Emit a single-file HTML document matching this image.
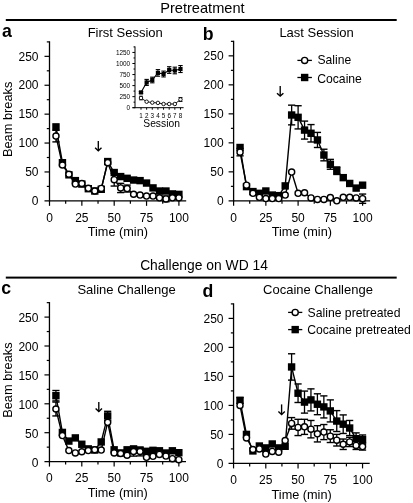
<!DOCTYPE html>
<html><head><meta charset="utf-8"><style>
html,body{margin:0;padding:0;background:#fff;overflow:hidden;}
svg{display:block;font-family:"Liberation Sans", sans-serif;will-change:transform;}
text{fill:#000;}
</style></head><body>
<svg width="413" height="503" viewBox="0 0 413 503">
<rect width="413" height="503" fill="#fff"/>
<text x="202.40" y="12.60" font-size="14.6" text-anchor="middle" font-weight="normal" >Pretreatment</text>
<rect x="5.8" y="19" width="390.9" height="2" fill="#000"/>
<text x="204.00" y="269.60" font-size="13.85" text-anchor="middle" font-weight="normal" >Challenge on WD 14</text>
<rect x="5.8" y="276.6" width="390.9" height="2" fill="#000"/>
<text x="2.00" y="36.50" font-size="17.7" text-anchor="start" font-weight="bold" >a</text>
<text x="202.70" y="39.50" font-size="17.7" text-anchor="start" font-weight="bold" >b</text>
<text x="1.30" y="293.70" font-size="17.7" text-anchor="start" font-weight="bold" >c</text>
<text x="202.50" y="296.50" font-size="17.7" text-anchor="start" font-weight="bold" >d</text>
<text x="125.20" y="36.90" font-size="13" text-anchor="middle" font-weight="normal" >First Session</text>
<text x="316.60" y="37.20" font-size="13" text-anchor="middle" font-weight="normal" >Last Session</text>
<text x="126.60" y="294.40" font-size="13" text-anchor="middle" font-weight="normal" >Saline Challenge</text>
<text x="318.00" y="294.00" font-size="13" text-anchor="middle" font-weight="normal" >Cocaine Challenge</text>
<line x1="49.50" y1="41.30" x2="49.50" y2="201.45" stroke="#000" stroke-width="1.3"/>
<line x1="44.50" y1="200.85" x2="186.20" y2="200.85" stroke="#000" stroke-width="1.4"/>
<line x1="46.80" y1="186.40" x2="49.50" y2="186.40" stroke="#000" stroke-width="1.2"/>
<line x1="44.50" y1="171.95" x2="49.50" y2="171.95" stroke="#000" stroke-width="1.2"/>
<line x1="46.80" y1="157.50" x2="49.50" y2="157.50" stroke="#000" stroke-width="1.2"/>
<line x1="44.50" y1="143.05" x2="49.50" y2="143.05" stroke="#000" stroke-width="1.2"/>
<line x1="46.80" y1="128.60" x2="49.50" y2="128.60" stroke="#000" stroke-width="1.2"/>
<line x1="44.50" y1="114.15" x2="49.50" y2="114.15" stroke="#000" stroke-width="1.2"/>
<line x1="46.80" y1="99.70" x2="49.50" y2="99.70" stroke="#000" stroke-width="1.2"/>
<line x1="44.50" y1="85.25" x2="49.50" y2="85.25" stroke="#000" stroke-width="1.2"/>
<line x1="46.80" y1="70.80" x2="49.50" y2="70.80" stroke="#000" stroke-width="1.2"/>
<line x1="44.50" y1="56.35" x2="49.50" y2="56.35" stroke="#000" stroke-width="1.2"/>
<line x1="46.80" y1="41.90" x2="49.50" y2="41.90" stroke="#000" stroke-width="1.2"/>
<text x="38.50" y="205.05" font-size="12" text-anchor="end" font-weight="normal" >0</text>
<text x="38.50" y="176.15" font-size="12" text-anchor="end" font-weight="normal" >50</text>
<text x="38.50" y="147.25" font-size="12" text-anchor="end" font-weight="normal" >100</text>
<text x="38.50" y="118.35" font-size="12" text-anchor="end" font-weight="normal" >150</text>
<text x="38.50" y="89.45" font-size="12" text-anchor="end" font-weight="normal" >200</text>
<text x="38.50" y="60.55" font-size="12" text-anchor="end" font-weight="normal" >250</text>
<line x1="49.50" y1="200.85" x2="49.50" y2="205.85" stroke="#000" stroke-width="1.2"/>
<line x1="65.67" y1="200.85" x2="65.67" y2="203.85" stroke="#000" stroke-width="1.2"/>
<line x1="81.85" y1="200.85" x2="81.85" y2="205.85" stroke="#000" stroke-width="1.2"/>
<line x1="98.03" y1="200.85" x2="98.03" y2="203.85" stroke="#000" stroke-width="1.2"/>
<line x1="114.20" y1="200.85" x2="114.20" y2="205.85" stroke="#000" stroke-width="1.2"/>
<line x1="130.38" y1="200.85" x2="130.38" y2="203.85" stroke="#000" stroke-width="1.2"/>
<line x1="146.55" y1="200.85" x2="146.55" y2="205.85" stroke="#000" stroke-width="1.2"/>
<line x1="162.73" y1="200.85" x2="162.73" y2="203.85" stroke="#000" stroke-width="1.2"/>
<line x1="178.90" y1="200.85" x2="178.90" y2="205.85" stroke="#000" stroke-width="1.2"/>
<text x="49.50" y="221.55" font-size="12" text-anchor="middle" font-weight="normal" >0</text>
<text x="81.85" y="221.55" font-size="12" text-anchor="middle" font-weight="normal" >25</text>
<text x="114.20" y="221.55" font-size="12" text-anchor="middle" font-weight="normal" >50</text>
<text x="146.55" y="221.55" font-size="12" text-anchor="middle" font-weight="normal" >75</text>
<text x="178.90" y="221.55" font-size="12" text-anchor="middle" font-weight="normal" >100</text>
<text x="117.85" y="236.35" font-size="12.7" text-anchor="middle" font-weight="normal" >Time (min)</text>
<text x="0" y="0" font-size="12.8" text-anchor="middle" transform="translate(11.70,119.38) rotate(-90)">Beam breaks</text>
<line x1="233.60" y1="40.75" x2="233.60" y2="201.45" stroke="#000" stroke-width="1.3"/>
<line x1="228.60" y1="200.85" x2="370.10" y2="200.85" stroke="#000" stroke-width="1.4"/>
<line x1="230.90" y1="186.35" x2="233.60" y2="186.35" stroke="#000" stroke-width="1.2"/>
<line x1="228.60" y1="171.85" x2="233.60" y2="171.85" stroke="#000" stroke-width="1.2"/>
<line x1="230.90" y1="157.35" x2="233.60" y2="157.35" stroke="#000" stroke-width="1.2"/>
<line x1="228.60" y1="142.85" x2="233.60" y2="142.85" stroke="#000" stroke-width="1.2"/>
<line x1="230.90" y1="128.35" x2="233.60" y2="128.35" stroke="#000" stroke-width="1.2"/>
<line x1="228.60" y1="113.85" x2="233.60" y2="113.85" stroke="#000" stroke-width="1.2"/>
<line x1="230.90" y1="99.35" x2="233.60" y2="99.35" stroke="#000" stroke-width="1.2"/>
<line x1="228.60" y1="84.85" x2="233.60" y2="84.85" stroke="#000" stroke-width="1.2"/>
<line x1="230.90" y1="70.35" x2="233.60" y2="70.35" stroke="#000" stroke-width="1.2"/>
<line x1="228.60" y1="55.85" x2="233.60" y2="55.85" stroke="#000" stroke-width="1.2"/>
<line x1="230.90" y1="41.35" x2="233.60" y2="41.35" stroke="#000" stroke-width="1.2"/>
<text x="223.60" y="205.35" font-size="12" text-anchor="end" font-weight="normal" >0</text>
<text x="223.60" y="176.35" font-size="12" text-anchor="end" font-weight="normal" >50</text>
<text x="223.60" y="147.35" font-size="12" text-anchor="end" font-weight="normal" >100</text>
<text x="223.60" y="118.35" font-size="12" text-anchor="end" font-weight="normal" >150</text>
<text x="223.60" y="89.35" font-size="12" text-anchor="end" font-weight="normal" >200</text>
<text x="223.60" y="60.35" font-size="12" text-anchor="end" font-weight="normal" >250</text>
<line x1="233.60" y1="200.85" x2="233.60" y2="205.85" stroke="#000" stroke-width="1.2"/>
<line x1="249.72" y1="200.85" x2="249.72" y2="203.85" stroke="#000" stroke-width="1.2"/>
<line x1="265.85" y1="200.85" x2="265.85" y2="205.85" stroke="#000" stroke-width="1.2"/>
<line x1="281.98" y1="200.85" x2="281.98" y2="203.85" stroke="#000" stroke-width="1.2"/>
<line x1="298.10" y1="200.85" x2="298.10" y2="205.85" stroke="#000" stroke-width="1.2"/>
<line x1="314.23" y1="200.85" x2="314.23" y2="203.85" stroke="#000" stroke-width="1.2"/>
<line x1="330.35" y1="200.85" x2="330.35" y2="205.85" stroke="#000" stroke-width="1.2"/>
<line x1="346.48" y1="200.85" x2="346.48" y2="203.85" stroke="#000" stroke-width="1.2"/>
<line x1="362.60" y1="200.85" x2="362.60" y2="205.85" stroke="#000" stroke-width="1.2"/>
<text x="233.60" y="221.55" font-size="12" text-anchor="middle" font-weight="normal" >0</text>
<text x="265.85" y="221.55" font-size="12" text-anchor="middle" font-weight="normal" >25</text>
<text x="298.10" y="221.55" font-size="12" text-anchor="middle" font-weight="normal" >50</text>
<text x="330.35" y="221.55" font-size="12" text-anchor="middle" font-weight="normal" >75</text>
<text x="362.60" y="221.55" font-size="12" text-anchor="middle" font-weight="normal" >100</text>
<text x="301.85" y="236.35" font-size="12.7" text-anchor="middle" font-weight="normal" >Time (min)</text>
<line x1="49.45" y1="302.05" x2="49.45" y2="462.20" stroke="#000" stroke-width="1.3"/>
<line x1="44.45" y1="461.60" x2="186.00" y2="461.60" stroke="#000" stroke-width="1.4"/>
<line x1="46.75" y1="447.15" x2="49.45" y2="447.15" stroke="#000" stroke-width="1.2"/>
<line x1="44.45" y1="432.70" x2="49.45" y2="432.70" stroke="#000" stroke-width="1.2"/>
<line x1="46.75" y1="418.25" x2="49.45" y2="418.25" stroke="#000" stroke-width="1.2"/>
<line x1="44.45" y1="403.80" x2="49.45" y2="403.80" stroke="#000" stroke-width="1.2"/>
<line x1="46.75" y1="389.35" x2="49.45" y2="389.35" stroke="#000" stroke-width="1.2"/>
<line x1="44.45" y1="374.90" x2="49.45" y2="374.90" stroke="#000" stroke-width="1.2"/>
<line x1="46.75" y1="360.45" x2="49.45" y2="360.45" stroke="#000" stroke-width="1.2"/>
<line x1="44.45" y1="346.00" x2="49.45" y2="346.00" stroke="#000" stroke-width="1.2"/>
<line x1="46.75" y1="331.55" x2="49.45" y2="331.55" stroke="#000" stroke-width="1.2"/>
<line x1="44.45" y1="317.10" x2="49.45" y2="317.10" stroke="#000" stroke-width="1.2"/>
<line x1="46.75" y1="302.65" x2="49.45" y2="302.65" stroke="#000" stroke-width="1.2"/>
<text x="38.45" y="466.50" font-size="12" text-anchor="end" font-weight="normal" >0</text>
<text x="38.45" y="437.60" font-size="12" text-anchor="end" font-weight="normal" >50</text>
<text x="38.45" y="408.70" font-size="12" text-anchor="end" font-weight="normal" >100</text>
<text x="38.45" y="379.80" font-size="12" text-anchor="end" font-weight="normal" >150</text>
<text x="38.45" y="350.90" font-size="12" text-anchor="end" font-weight="normal" >200</text>
<text x="38.45" y="322.00" font-size="12" text-anchor="end" font-weight="normal" >250</text>
<line x1="49.45" y1="461.60" x2="49.45" y2="466.60" stroke="#000" stroke-width="1.2"/>
<line x1="65.62" y1="461.60" x2="65.62" y2="464.60" stroke="#000" stroke-width="1.2"/>
<line x1="81.80" y1="461.60" x2="81.80" y2="466.60" stroke="#000" stroke-width="1.2"/>
<line x1="97.97" y1="461.60" x2="97.97" y2="464.60" stroke="#000" stroke-width="1.2"/>
<line x1="114.15" y1="461.60" x2="114.15" y2="466.60" stroke="#000" stroke-width="1.2"/>
<line x1="130.32" y1="461.60" x2="130.32" y2="464.60" stroke="#000" stroke-width="1.2"/>
<line x1="146.50" y1="461.60" x2="146.50" y2="466.60" stroke="#000" stroke-width="1.2"/>
<line x1="162.68" y1="461.60" x2="162.68" y2="464.60" stroke="#000" stroke-width="1.2"/>
<line x1="178.85" y1="461.60" x2="178.85" y2="466.60" stroke="#000" stroke-width="1.2"/>
<text x="49.45" y="482.30" font-size="12" text-anchor="middle" font-weight="normal" >0</text>
<text x="81.80" y="482.30" font-size="12" text-anchor="middle" font-weight="normal" >25</text>
<text x="114.15" y="482.30" font-size="12" text-anchor="middle" font-weight="normal" >50</text>
<text x="146.50" y="482.30" font-size="12" text-anchor="middle" font-weight="normal" >75</text>
<text x="178.85" y="482.30" font-size="12" text-anchor="middle" font-weight="normal" >100</text>
<text x="117.72" y="497.10" font-size="12.7" text-anchor="middle" font-weight="normal" >Time (min)</text>
<text x="0" y="0" font-size="12.8" text-anchor="middle" transform="translate(11.65,380.12) rotate(-90)">Beam breaks</text>
<line x1="233.55" y1="303.30" x2="233.55" y2="464.00" stroke="#000" stroke-width="1.3"/>
<line x1="228.55" y1="463.40" x2="369.70" y2="463.40" stroke="#000" stroke-width="1.4"/>
<line x1="230.85" y1="448.90" x2="233.55" y2="448.90" stroke="#000" stroke-width="1.2"/>
<line x1="228.55" y1="434.40" x2="233.55" y2="434.40" stroke="#000" stroke-width="1.2"/>
<line x1="230.85" y1="419.90" x2="233.55" y2="419.90" stroke="#000" stroke-width="1.2"/>
<line x1="228.55" y1="405.40" x2="233.55" y2="405.40" stroke="#000" stroke-width="1.2"/>
<line x1="230.85" y1="390.90" x2="233.55" y2="390.90" stroke="#000" stroke-width="1.2"/>
<line x1="228.55" y1="376.40" x2="233.55" y2="376.40" stroke="#000" stroke-width="1.2"/>
<line x1="230.85" y1="361.90" x2="233.55" y2="361.90" stroke="#000" stroke-width="1.2"/>
<line x1="228.55" y1="347.40" x2="233.55" y2="347.40" stroke="#000" stroke-width="1.2"/>
<line x1="230.85" y1="332.90" x2="233.55" y2="332.90" stroke="#000" stroke-width="1.2"/>
<line x1="228.55" y1="318.40" x2="233.55" y2="318.40" stroke="#000" stroke-width="1.2"/>
<line x1="230.85" y1="303.90" x2="233.55" y2="303.90" stroke="#000" stroke-width="1.2"/>
<text x="223.55" y="468.00" font-size="12" text-anchor="end" font-weight="normal" >0</text>
<text x="223.55" y="439.00" font-size="12" text-anchor="end" font-weight="normal" >50</text>
<text x="223.55" y="410.00" font-size="12" text-anchor="end" font-weight="normal" >100</text>
<text x="223.55" y="381.00" font-size="12" text-anchor="end" font-weight="normal" >150</text>
<text x="223.55" y="352.00" font-size="12" text-anchor="end" font-weight="normal" >200</text>
<text x="223.55" y="323.00" font-size="12" text-anchor="end" font-weight="normal" >250</text>
<line x1="233.55" y1="463.40" x2="233.55" y2="468.40" stroke="#000" stroke-width="1.2"/>
<line x1="249.68" y1="463.40" x2="249.68" y2="466.40" stroke="#000" stroke-width="1.2"/>
<line x1="265.80" y1="463.40" x2="265.80" y2="468.40" stroke="#000" stroke-width="1.2"/>
<line x1="281.93" y1="463.40" x2="281.93" y2="466.40" stroke="#000" stroke-width="1.2"/>
<line x1="298.05" y1="463.40" x2="298.05" y2="468.40" stroke="#000" stroke-width="1.2"/>
<line x1="314.18" y1="463.40" x2="314.18" y2="466.40" stroke="#000" stroke-width="1.2"/>
<line x1="330.30" y1="463.40" x2="330.30" y2="468.40" stroke="#000" stroke-width="1.2"/>
<line x1="346.43" y1="463.40" x2="346.43" y2="466.40" stroke="#000" stroke-width="1.2"/>
<line x1="362.55" y1="463.40" x2="362.55" y2="468.40" stroke="#000" stroke-width="1.2"/>
<text x="233.55" y="484.10" font-size="12" text-anchor="middle" font-weight="normal" >0</text>
<text x="265.80" y="484.10" font-size="12" text-anchor="middle" font-weight="normal" >25</text>
<text x="298.05" y="484.10" font-size="12" text-anchor="middle" font-weight="normal" >50</text>
<text x="330.30" y="484.10" font-size="12" text-anchor="middle" font-weight="normal" >75</text>
<text x="362.55" y="484.10" font-size="12" text-anchor="middle" font-weight="normal" >100</text>
<text x="301.62" y="498.90" font-size="12.7" text-anchor="middle" font-weight="normal" >Time (min)</text>
<line x1="98.30" y1="141.10" x2="98.30" y2="150.70" stroke="#000" stroke-width="1.35"/>
<path d="M95.10,147.80 L98.30,150.70 L101.50,147.80" fill="none" stroke="#000" stroke-width="1.4" stroke-linejoin="miter"/>
<line x1="280.20" y1="86.00" x2="280.20" y2="96.10" stroke="#000" stroke-width="1.35"/>
<path d="M277.00,93.20 L280.20,96.10 L283.40,93.20" fill="none" stroke="#000" stroke-width="1.4" stroke-linejoin="miter"/>
<line x1="98.80" y1="402.00" x2="98.80" y2="411.50" stroke="#000" stroke-width="1.35"/>
<path d="M95.60,408.60 L98.80,411.50 L102.00,408.60" fill="none" stroke="#000" stroke-width="1.4" stroke-linejoin="miter"/>
<line x1="281.60" y1="404.40" x2="281.60" y2="414.50" stroke="#000" stroke-width="1.35"/>
<path d="M278.40,411.60 L281.60,414.50 L284.80,411.60" fill="none" stroke="#000" stroke-width="1.4" stroke-linejoin="miter"/>
<path d="M55.97,126.87 L62.44,162.70 L68.91,174.84 L75.38,180.62 L81.85,184.09 L88.32,188.71 L94.79,191.02 L101.26,189.29 L107.73,161.55 L114.20,172.53 L120.67,176.57 L127.14,178.31 L133.61,180.04 L140.08,180.62 L146.55,183.05 L153.02,187.90 L159.49,191.02 L165.96,191.02 L172.43,193.91 L178.90,194.38" fill="none" stroke="#000" stroke-width="1.4"/>
<rect x="52.27" y="123.17" width="7.4" height="7.4" fill="#000"/>
<rect x="58.74" y="159.00" width="7.4" height="7.4" fill="#000"/>
<rect x="65.21" y="171.14" width="7.4" height="7.4" fill="#000"/>
<rect x="71.68" y="176.92" width="7.4" height="7.4" fill="#000"/>
<rect x="78.15" y="180.39" width="7.4" height="7.4" fill="#000"/>
<rect x="84.62" y="185.01" width="7.4" height="7.4" fill="#000"/>
<rect x="91.09" y="187.32" width="7.4" height="7.4" fill="#000"/>
<rect x="97.56" y="185.59" width="7.4" height="7.4" fill="#000"/>
<rect x="104.03" y="157.85" width="7.4" height="7.4" fill="#000"/>
<rect x="110.50" y="168.83" width="7.4" height="7.4" fill="#000"/>
<rect x="116.97" y="172.87" width="7.4" height="7.4" fill="#000"/>
<rect x="123.44" y="174.61" width="7.4" height="7.4" fill="#000"/>
<rect x="129.91" y="176.34" width="7.4" height="7.4" fill="#000"/>
<rect x="136.38" y="176.92" width="7.4" height="7.4" fill="#000"/>
<rect x="142.85" y="179.35" width="7.4" height="7.4" fill="#000"/>
<rect x="149.32" y="184.20" width="7.4" height="7.4" fill="#000"/>
<rect x="155.79" y="187.32" width="7.4" height="7.4" fill="#000"/>
<rect x="162.26" y="187.32" width="7.4" height="7.4" fill="#000"/>
<rect x="168.73" y="190.21" width="7.4" height="7.4" fill="#000"/>
<rect x="175.20" y="190.68" width="7.4" height="7.4" fill="#000"/>
<line x1="55.97" y1="130.33" x2="55.97" y2="141.89" stroke="#000" stroke-width="1.3"/>
<line x1="52.37" y1="130.33" x2="59.57" y2="130.33" stroke="#000" stroke-width="1.4"/>
<line x1="52.37" y1="141.89" x2="59.57" y2="141.89" stroke="#000" stroke-width="1.4"/>
<line x1="114.20" y1="173.34" x2="114.20" y2="186.05" stroke="#000" stroke-width="1.3"/>
<line x1="110.60" y1="173.34" x2="117.80" y2="173.34" stroke="#000" stroke-width="1.4"/>
<line x1="110.60" y1="186.05" x2="117.80" y2="186.05" stroke="#000" stroke-width="1.4"/>
<line x1="120.67" y1="183.34" x2="120.67" y2="192.58" stroke="#000" stroke-width="1.3"/>
<line x1="117.07" y1="183.34" x2="124.27" y2="183.34" stroke="#000" stroke-width="1.4"/>
<line x1="117.07" y1="192.58" x2="124.27" y2="192.58" stroke="#000" stroke-width="1.4"/>
<line x1="127.14" y1="185.07" x2="127.14" y2="192.01" stroke="#000" stroke-width="1.3"/>
<line x1="123.54" y1="185.07" x2="130.74" y2="185.07" stroke="#000" stroke-width="1.4"/>
<line x1="123.54" y1="192.01" x2="130.74" y2="192.01" stroke="#000" stroke-width="1.4"/>
<line x1="165.96" y1="195.99" x2="165.96" y2="201.77" stroke="#000" stroke-width="1.3"/>
<line x1="162.36" y1="195.99" x2="169.56" y2="195.99" stroke="#000" stroke-width="1.4"/>
<line x1="162.36" y1="201.77" x2="169.56" y2="201.77" stroke="#000" stroke-width="1.4"/>
<path d="M55.97,136.11 L62.44,165.01 L68.91,174.26 L75.38,184.09 L81.85,183.51 L88.32,188.37 L94.79,191.02 L101.26,188.42 L107.73,162.70 L114.20,179.70 L120.67,187.96 L127.14,188.54 L133.61,194.26 L140.08,195.07 L146.55,196.11 L153.02,196.11 L159.49,197.79 L165.96,198.88 L172.43,197.79 L178.90,197.79" fill="none" stroke="#000" stroke-width="1.4"/>
<circle cx="55.97" cy="136.11" r="3.05" fill="#fff" stroke="#000" stroke-width="1.4"/>
<circle cx="62.44" cy="165.01" r="3.05" fill="#fff" stroke="#000" stroke-width="1.4"/>
<circle cx="68.91" cy="174.26" r="3.05" fill="#fff" stroke="#000" stroke-width="1.4"/>
<circle cx="75.38" cy="184.09" r="3.05" fill="#fff" stroke="#000" stroke-width="1.4"/>
<circle cx="81.85" cy="183.51" r="3.05" fill="#fff" stroke="#000" stroke-width="1.4"/>
<circle cx="88.32" cy="188.37" r="3.05" fill="#fff" stroke="#000" stroke-width="1.4"/>
<circle cx="94.79" cy="191.02" r="3.05" fill="#fff" stroke="#000" stroke-width="1.4"/>
<circle cx="101.26" cy="188.42" r="3.05" fill="#fff" stroke="#000" stroke-width="1.4"/>
<circle cx="107.73" cy="162.70" r="3.05" fill="#fff" stroke="#000" stroke-width="1.4"/>
<circle cx="114.20" cy="179.70" r="3.05" fill="#fff" stroke="#000" stroke-width="1.4"/>
<circle cx="120.67" cy="187.96" r="3.05" fill="#fff" stroke="#000" stroke-width="1.4"/>
<circle cx="127.14" cy="188.54" r="3.05" fill="#fff" stroke="#000" stroke-width="1.4"/>
<circle cx="133.61" cy="194.26" r="3.05" fill="#fff" stroke="#000" stroke-width="1.4"/>
<circle cx="140.08" cy="195.07" r="3.05" fill="#fff" stroke="#000" stroke-width="1.4"/>
<circle cx="146.55" cy="196.11" r="3.05" fill="#fff" stroke="#000" stroke-width="1.4"/>
<circle cx="153.02" cy="196.11" r="3.05" fill="#fff" stroke="#000" stroke-width="1.4"/>
<circle cx="159.49" cy="197.79" r="3.05" fill="#fff" stroke="#000" stroke-width="1.4"/>
<circle cx="165.96" cy="198.88" r="3.05" fill="#fff" stroke="#000" stroke-width="1.4"/>
<circle cx="172.43" cy="197.79" r="3.05" fill="#fff" stroke="#000" stroke-width="1.4"/>
<circle cx="178.90" cy="197.79" r="3.05" fill="#fff" stroke="#000" stroke-width="1.4"/>
<line x1="291.65" y1="105.15" x2="291.65" y2="124.87" stroke="#000" stroke-width="1.3"/>
<line x1="288.05" y1="105.15" x2="295.25" y2="105.15" stroke="#000" stroke-width="1.4"/>
<line x1="288.05" y1="124.87" x2="295.25" y2="124.87" stroke="#000" stroke-width="1.4"/>
<line x1="298.10" y1="105.73" x2="298.10" y2="128.93" stroke="#000" stroke-width="1.3"/>
<line x1="294.50" y1="105.73" x2="301.70" y2="105.73" stroke="#000" stroke-width="1.4"/>
<line x1="294.50" y1="128.93" x2="301.70" y2="128.93" stroke="#000" stroke-width="1.4"/>
<line x1="304.55" y1="121.10" x2="304.55" y2="139.08" stroke="#000" stroke-width="1.3"/>
<line x1="300.95" y1="121.10" x2="308.15" y2="121.10" stroke="#000" stroke-width="1.4"/>
<line x1="300.95" y1="139.08" x2="308.15" y2="139.08" stroke="#000" stroke-width="1.4"/>
<line x1="311.00" y1="124.58" x2="311.00" y2="141.98" stroke="#000" stroke-width="1.3"/>
<line x1="307.40" y1="124.58" x2="314.60" y2="124.58" stroke="#000" stroke-width="1.4"/>
<line x1="307.40" y1="141.98" x2="314.60" y2="141.98" stroke="#000" stroke-width="1.4"/>
<line x1="317.45" y1="132.41" x2="317.45" y2="147.49" stroke="#000" stroke-width="1.3"/>
<line x1="313.85" y1="132.41" x2="321.05" y2="132.41" stroke="#000" stroke-width="1.4"/>
<line x1="313.85" y1="147.49" x2="321.05" y2="147.49" stroke="#000" stroke-width="1.4"/>
<line x1="323.90" y1="149.23" x2="323.90" y2="160.83" stroke="#000" stroke-width="1.3"/>
<line x1="320.30" y1="149.23" x2="327.50" y2="149.23" stroke="#000" stroke-width="1.4"/>
<line x1="320.30" y1="160.83" x2="327.50" y2="160.83" stroke="#000" stroke-width="1.4"/>
<line x1="330.35" y1="159.38" x2="330.35" y2="169.24" stroke="#000" stroke-width="1.3"/>
<line x1="326.75" y1="159.38" x2="333.95" y2="159.38" stroke="#000" stroke-width="1.4"/>
<line x1="326.75" y1="169.24" x2="333.95" y2="169.24" stroke="#000" stroke-width="1.4"/>
<line x1="336.80" y1="166.92" x2="336.80" y2="174.46" stroke="#000" stroke-width="1.3"/>
<line x1="333.20" y1="166.92" x2="340.40" y2="166.92" stroke="#000" stroke-width="1.4"/>
<line x1="333.20" y1="174.46" x2="340.40" y2="174.46" stroke="#000" stroke-width="1.4"/>
<path d="M240.05,147.49 L246.50,186.64 L252.95,191.57 L259.40,193.31 L265.85,190.99 L272.30,195.05 L278.75,195.63 L285.20,185.89 L291.65,115.01 L298.10,117.33 L304.55,130.09 L311.00,133.28 L317.45,139.95 L323.90,155.03 L330.35,164.31 L336.80,170.69 L343.25,177.65 L349.70,183.45 L356.15,188.09 L362.60,185.19" fill="none" stroke="#000" stroke-width="1.4"/>
<rect x="236.35" y="143.79" width="7.4" height="7.4" fill="#000"/>
<rect x="242.80" y="182.94" width="7.4" height="7.4" fill="#000"/>
<rect x="249.25" y="187.87" width="7.4" height="7.4" fill="#000"/>
<rect x="255.70" y="189.61" width="7.4" height="7.4" fill="#000"/>
<rect x="262.15" y="187.29" width="7.4" height="7.4" fill="#000"/>
<rect x="268.60" y="191.35" width="7.4" height="7.4" fill="#000"/>
<rect x="275.05" y="191.93" width="7.4" height="7.4" fill="#000"/>
<rect x="281.50" y="182.19" width="7.4" height="7.4" fill="#000"/>
<rect x="287.95" y="111.31" width="7.4" height="7.4" fill="#000"/>
<rect x="294.40" y="113.63" width="7.4" height="7.4" fill="#000"/>
<rect x="300.85" y="126.39" width="7.4" height="7.4" fill="#000"/>
<rect x="307.30" y="129.58" width="7.4" height="7.4" fill="#000"/>
<rect x="313.75" y="136.25" width="7.4" height="7.4" fill="#000"/>
<rect x="320.20" y="151.33" width="7.4" height="7.4" fill="#000"/>
<rect x="326.65" y="160.61" width="7.4" height="7.4" fill="#000"/>
<rect x="333.10" y="166.99" width="7.4" height="7.4" fill="#000"/>
<rect x="339.55" y="173.95" width="7.4" height="7.4" fill="#000"/>
<rect x="346.00" y="179.75" width="7.4" height="7.4" fill="#000"/>
<rect x="352.45" y="184.39" width="7.4" height="7.4" fill="#000"/>
<rect x="358.90" y="181.49" width="7.4" height="7.4" fill="#000"/>
<line x1="240.05" y1="148.42" x2="240.05" y2="155.84" stroke="#000" stroke-width="1.3"/>
<line x1="236.45" y1="148.42" x2="243.65" y2="148.42" stroke="#000" stroke-width="1.4"/>
<line x1="236.45" y1="155.84" x2="243.65" y2="155.84" stroke="#000" stroke-width="1.4"/>
<line x1="362.60" y1="194.06" x2="362.60" y2="203.34" stroke="#000" stroke-width="1.3"/>
<line x1="359.00" y1="194.06" x2="366.20" y2="194.06" stroke="#000" stroke-width="1.4"/>
<line x1="359.00" y1="203.34" x2="366.20" y2="203.34" stroke="#000" stroke-width="1.4"/>
<path d="M240.05,152.13 L246.50,185.19 L252.95,193.31 L259.40,197.37 L265.85,198.53 L272.30,198.53 L278.75,198.53 L285.20,195.05 L291.65,172.08 L298.10,193.31 L304.55,192.73 L311.00,197.95 L317.45,199.40 L323.90,199.40 L330.35,197.60 L336.80,200.85 L343.25,197.37 L349.70,197.37 L356.15,197.95 L362.60,198.70" fill="none" stroke="#000" stroke-width="1.4"/>
<circle cx="240.05" cy="152.13" r="3.05" fill="#fff" stroke="#000" stroke-width="1.4"/>
<circle cx="246.50" cy="185.19" r="3.05" fill="#fff" stroke="#000" stroke-width="1.4"/>
<circle cx="252.95" cy="193.31" r="3.05" fill="#fff" stroke="#000" stroke-width="1.4"/>
<circle cx="259.40" cy="197.37" r="3.05" fill="#fff" stroke="#000" stroke-width="1.4"/>
<circle cx="265.85" cy="198.53" r="3.05" fill="#fff" stroke="#000" stroke-width="1.4"/>
<circle cx="272.30" cy="198.53" r="3.05" fill="#fff" stroke="#000" stroke-width="1.4"/>
<circle cx="278.75" cy="198.53" r="3.05" fill="#fff" stroke="#000" stroke-width="1.4"/>
<circle cx="285.20" cy="195.05" r="3.05" fill="#fff" stroke="#000" stroke-width="1.4"/>
<circle cx="291.65" cy="172.08" r="3.05" fill="#fff" stroke="#000" stroke-width="1.4"/>
<circle cx="298.10" cy="193.31" r="3.05" fill="#fff" stroke="#000" stroke-width="1.4"/>
<circle cx="304.55" cy="192.73" r="3.05" fill="#fff" stroke="#000" stroke-width="1.4"/>
<circle cx="311.00" cy="197.95" r="3.05" fill="#fff" stroke="#000" stroke-width="1.4"/>
<circle cx="317.45" cy="199.40" r="3.05" fill="#fff" stroke="#000" stroke-width="1.4"/>
<circle cx="323.90" cy="199.40" r="3.05" fill="#fff" stroke="#000" stroke-width="1.4"/>
<circle cx="330.35" cy="197.60" r="3.05" fill="#fff" stroke="#000" stroke-width="1.4"/>
<circle cx="336.80" cy="200.85" r="3.05" fill="#fff" stroke="#000" stroke-width="1.4"/>
<circle cx="343.25" cy="197.37" r="3.05" fill="#fff" stroke="#000" stroke-width="1.4"/>
<circle cx="349.70" cy="197.37" r="3.05" fill="#fff" stroke="#000" stroke-width="1.4"/>
<circle cx="356.15" cy="197.95" r="3.05" fill="#fff" stroke="#000" stroke-width="1.4"/>
<circle cx="362.60" cy="198.70" r="3.05" fill="#fff" stroke="#000" stroke-width="1.4"/>
<line x1="55.92" y1="390.51" x2="55.92" y2="400.91" stroke="#000" stroke-width="1.3"/>
<line x1="52.32" y1="390.51" x2="59.52" y2="390.51" stroke="#000" stroke-width="1.4"/>
<line x1="52.32" y1="400.91" x2="59.52" y2="400.91" stroke="#000" stroke-width="1.4"/>
<line x1="107.68" y1="411.31" x2="107.68" y2="420.56" stroke="#000" stroke-width="1.3"/>
<line x1="104.08" y1="411.31" x2="111.28" y2="411.31" stroke="#000" stroke-width="1.4"/>
<line x1="104.08" y1="420.56" x2="111.28" y2="420.56" stroke="#000" stroke-width="1.4"/>
<path d="M55.92,395.71 L62.39,432.41 L68.86,441.08 L75.33,437.90 L81.80,444.26 L88.27,448.88 L94.74,450.04 L101.21,441.95 L107.68,415.94 L114.15,449.81 L120.62,452.93 L127.09,449.81 L133.56,448.88 L140.03,450.33 L146.50,451.31 L152.97,450.33 L159.44,450.79 L165.91,452.99 L172.38,450.79 L178.85,452.70" fill="none" stroke="#000" stroke-width="1.4"/>
<rect x="52.22" y="392.01" width="7.4" height="7.4" fill="#000"/>
<rect x="58.69" y="428.71" width="7.4" height="7.4" fill="#000"/>
<rect x="65.16" y="437.38" width="7.4" height="7.4" fill="#000"/>
<rect x="71.63" y="434.20" width="7.4" height="7.4" fill="#000"/>
<rect x="78.10" y="440.56" width="7.4" height="7.4" fill="#000"/>
<rect x="84.57" y="445.18" width="7.4" height="7.4" fill="#000"/>
<rect x="91.04" y="446.34" width="7.4" height="7.4" fill="#000"/>
<rect x="97.51" y="438.25" width="7.4" height="7.4" fill="#000"/>
<rect x="103.98" y="412.24" width="7.4" height="7.4" fill="#000"/>
<rect x="110.45" y="446.11" width="7.4" height="7.4" fill="#000"/>
<rect x="116.92" y="449.23" width="7.4" height="7.4" fill="#000"/>
<rect x="123.39" y="446.11" width="7.4" height="7.4" fill="#000"/>
<rect x="129.86" y="445.18" width="7.4" height="7.4" fill="#000"/>
<rect x="136.33" y="446.63" width="7.4" height="7.4" fill="#000"/>
<rect x="142.80" y="447.61" width="7.4" height="7.4" fill="#000"/>
<rect x="149.27" y="446.63" width="7.4" height="7.4" fill="#000"/>
<rect x="155.74" y="447.09" width="7.4" height="7.4" fill="#000"/>
<rect x="162.21" y="449.29" width="7.4" height="7.4" fill="#000"/>
<rect x="168.68" y="447.09" width="7.4" height="7.4" fill="#000"/>
<rect x="175.15" y="449.00" width="7.4" height="7.4" fill="#000"/>
<line x1="55.92" y1="402.07" x2="55.92" y2="415.94" stroke="#000" stroke-width="1.3"/>
<line x1="52.32" y1="402.07" x2="59.52" y2="402.07" stroke="#000" stroke-width="1.4"/>
<line x1="52.32" y1="415.94" x2="59.52" y2="415.94" stroke="#000" stroke-width="1.4"/>
<line x1="133.56" y1="446.86" x2="133.56" y2="456.11" stroke="#000" stroke-width="1.3"/>
<line x1="129.96" y1="446.86" x2="137.16" y2="446.86" stroke="#000" stroke-width="1.4"/>
<line x1="129.96" y1="456.11" x2="137.16" y2="456.11" stroke="#000" stroke-width="1.4"/>
<line x1="140.03" y1="447.09" x2="140.03" y2="455.88" stroke="#000" stroke-width="1.3"/>
<line x1="136.43" y1="447.09" x2="143.63" y2="447.09" stroke="#000" stroke-width="1.4"/>
<line x1="136.43" y1="455.88" x2="143.63" y2="455.88" stroke="#000" stroke-width="1.4"/>
<path d="M55.92,409.00 L62.39,435.59 L68.86,450.62 L75.33,452.93 L81.80,451.77 L88.27,450.62 L94.74,449.75 L101.21,450.04 L107.68,422.30 L114.15,452.93 L120.62,453.51 L127.09,455.24 L133.56,451.49 L140.03,451.49 L146.50,457.32 L152.97,456.28 L159.44,454.38 L165.91,456.11 L172.38,458.71 L178.85,459.69" fill="none" stroke="#000" stroke-width="1.4"/>
<circle cx="55.92" cy="409.00" r="3.05" fill="#fff" stroke="#000" stroke-width="1.4"/>
<circle cx="62.39" cy="435.59" r="3.05" fill="#fff" stroke="#000" stroke-width="1.4"/>
<circle cx="68.86" cy="450.62" r="3.05" fill="#fff" stroke="#000" stroke-width="1.4"/>
<circle cx="75.33" cy="452.93" r="3.05" fill="#fff" stroke="#000" stroke-width="1.4"/>
<circle cx="81.80" cy="451.77" r="3.05" fill="#fff" stroke="#000" stroke-width="1.4"/>
<circle cx="88.27" cy="450.62" r="3.05" fill="#fff" stroke="#000" stroke-width="1.4"/>
<circle cx="94.74" cy="449.75" r="3.05" fill="#fff" stroke="#000" stroke-width="1.4"/>
<circle cx="101.21" cy="450.04" r="3.05" fill="#fff" stroke="#000" stroke-width="1.4"/>
<circle cx="107.68" cy="422.30" r="3.05" fill="#fff" stroke="#000" stroke-width="1.4"/>
<circle cx="114.15" cy="452.93" r="3.05" fill="#fff" stroke="#000" stroke-width="1.4"/>
<circle cx="120.62" cy="453.51" r="3.05" fill="#fff" stroke="#000" stroke-width="1.4"/>
<circle cx="127.09" cy="455.24" r="3.05" fill="#fff" stroke="#000" stroke-width="1.4"/>
<circle cx="133.56" cy="451.49" r="3.05" fill="#fff" stroke="#000" stroke-width="1.4"/>
<circle cx="140.03" cy="451.49" r="3.05" fill="#fff" stroke="#000" stroke-width="1.4"/>
<circle cx="146.50" cy="457.32" r="3.05" fill="#fff" stroke="#000" stroke-width="1.4"/>
<circle cx="152.97" cy="456.28" r="3.05" fill="#fff" stroke="#000" stroke-width="1.4"/>
<circle cx="159.44" cy="454.38" r="3.05" fill="#fff" stroke="#000" stroke-width="1.4"/>
<circle cx="165.91" cy="456.11" r="3.05" fill="#fff" stroke="#000" stroke-width="1.4"/>
<circle cx="172.38" cy="458.71" r="3.05" fill="#fff" stroke="#000" stroke-width="1.4"/>
<circle cx="178.85" cy="459.69" r="3.05" fill="#fff" stroke="#000" stroke-width="1.4"/>
<line x1="240.00" y1="397.51" x2="240.00" y2="403.31" stroke="#000" stroke-width="1.3"/>
<line x1="236.40" y1="397.51" x2="243.60" y2="397.51" stroke="#000" stroke-width="1.4"/>
<line x1="236.40" y1="403.31" x2="243.60" y2="403.31" stroke="#000" stroke-width="1.4"/>
<line x1="291.60" y1="353.78" x2="291.60" y2="380.11" stroke="#000" stroke-width="1.3"/>
<line x1="288.00" y1="353.78" x2="295.20" y2="353.78" stroke="#000" stroke-width="1.4"/>
<line x1="288.00" y1="380.11" x2="295.20" y2="380.11" stroke="#000" stroke-width="1.4"/>
<line x1="298.05" y1="383.94" x2="298.05" y2="402.50" stroke="#000" stroke-width="1.3"/>
<line x1="294.45" y1="383.94" x2="301.65" y2="383.94" stroke="#000" stroke-width="1.4"/>
<line x1="294.45" y1="402.50" x2="301.65" y2="402.50" stroke="#000" stroke-width="1.4"/>
<line x1="304.50" y1="391.07" x2="304.50" y2="413.11" stroke="#000" stroke-width="1.3"/>
<line x1="300.90" y1="391.07" x2="308.10" y2="391.07" stroke="#000" stroke-width="1.4"/>
<line x1="300.90" y1="413.11" x2="308.10" y2="413.11" stroke="#000" stroke-width="1.4"/>
<line x1="310.95" y1="388.87" x2="310.95" y2="410.91" stroke="#000" stroke-width="1.3"/>
<line x1="307.35" y1="388.87" x2="314.55" y2="388.87" stroke="#000" stroke-width="1.4"/>
<line x1="307.35" y1="410.91" x2="314.55" y2="410.91" stroke="#000" stroke-width="1.4"/>
<line x1="317.40" y1="393.80" x2="317.40" y2="414.68" stroke="#000" stroke-width="1.3"/>
<line x1="313.80" y1="393.80" x2="321.00" y2="393.80" stroke="#000" stroke-width="1.4"/>
<line x1="313.80" y1="414.68" x2="321.00" y2="414.68" stroke="#000" stroke-width="1.4"/>
<line x1="323.85" y1="395.89" x2="323.85" y2="417.93" stroke="#000" stroke-width="1.3"/>
<line x1="320.25" y1="395.89" x2="327.45" y2="395.89" stroke="#000" stroke-width="1.4"/>
<line x1="320.25" y1="417.93" x2="327.45" y2="417.93" stroke="#000" stroke-width="1.4"/>
<line x1="330.30" y1="399.89" x2="330.30" y2="421.93" stroke="#000" stroke-width="1.3"/>
<line x1="326.70" y1="399.89" x2="333.90" y2="399.89" stroke="#000" stroke-width="1.4"/>
<line x1="326.70" y1="421.93" x2="333.90" y2="421.93" stroke="#000" stroke-width="1.4"/>
<line x1="336.75" y1="410.62" x2="336.75" y2="431.50" stroke="#000" stroke-width="1.3"/>
<line x1="333.15" y1="410.62" x2="340.35" y2="410.62" stroke="#000" stroke-width="1.4"/>
<line x1="333.15" y1="431.50" x2="340.35" y2="431.50" stroke="#000" stroke-width="1.4"/>
<line x1="343.20" y1="414.91" x2="343.20" y2="433.47" stroke="#000" stroke-width="1.3"/>
<line x1="339.60" y1="414.91" x2="346.80" y2="414.91" stroke="#000" stroke-width="1.4"/>
<line x1="339.60" y1="433.47" x2="346.80" y2="433.47" stroke="#000" stroke-width="1.4"/>
<line x1="349.65" y1="420.48" x2="349.65" y2="435.56" stroke="#000" stroke-width="1.3"/>
<line x1="346.05" y1="420.48" x2="353.25" y2="420.48" stroke="#000" stroke-width="1.4"/>
<line x1="346.05" y1="435.56" x2="353.25" y2="435.56" stroke="#000" stroke-width="1.4"/>
<line x1="356.10" y1="432.89" x2="356.10" y2="444.49" stroke="#000" stroke-width="1.3"/>
<line x1="352.50" y1="432.89" x2="359.70" y2="432.89" stroke="#000" stroke-width="1.4"/>
<line x1="352.50" y1="444.49" x2="359.70" y2="444.49" stroke="#000" stroke-width="1.4"/>
<line x1="362.55" y1="434.98" x2="362.55" y2="444.26" stroke="#000" stroke-width="1.3"/>
<line x1="358.95" y1="434.98" x2="366.15" y2="434.98" stroke="#000" stroke-width="1.4"/>
<line x1="358.95" y1="444.26" x2="366.15" y2="444.26" stroke="#000" stroke-width="1.4"/>
<path d="M240.00,400.41 L246.45,434.40 L252.90,450.93 L259.35,446.00 L265.80,447.91 L272.25,443.97 L278.70,447.91 L285.15,446.29 L291.60,366.95 L298.05,393.22 L304.50,402.09 L310.95,399.89 L317.40,404.24 L323.85,406.91 L330.30,410.91 L336.75,421.06 L343.20,424.19 L349.65,428.02 L356.10,438.69 L362.55,439.62" fill="none" stroke="#000" stroke-width="1.4"/>
<rect x="236.30" y="396.71" width="7.4" height="7.4" fill="#000"/>
<rect x="242.75" y="430.70" width="7.4" height="7.4" fill="#000"/>
<rect x="249.20" y="447.23" width="7.4" height="7.4" fill="#000"/>
<rect x="255.65" y="442.30" width="7.4" height="7.4" fill="#000"/>
<rect x="262.10" y="444.21" width="7.4" height="7.4" fill="#000"/>
<rect x="268.55" y="440.27" width="7.4" height="7.4" fill="#000"/>
<rect x="275.00" y="444.21" width="7.4" height="7.4" fill="#000"/>
<rect x="281.45" y="442.59" width="7.4" height="7.4" fill="#000"/>
<rect x="287.90" y="363.25" width="7.4" height="7.4" fill="#000"/>
<rect x="294.35" y="389.52" width="7.4" height="7.4" fill="#000"/>
<rect x="300.80" y="398.39" width="7.4" height="7.4" fill="#000"/>
<rect x="307.25" y="396.19" width="7.4" height="7.4" fill="#000"/>
<rect x="313.70" y="400.54" width="7.4" height="7.4" fill="#000"/>
<rect x="320.15" y="403.21" width="7.4" height="7.4" fill="#000"/>
<rect x="326.60" y="407.21" width="7.4" height="7.4" fill="#000"/>
<rect x="333.05" y="417.36" width="7.4" height="7.4" fill="#000"/>
<rect x="339.50" y="420.49" width="7.4" height="7.4" fill="#000"/>
<rect x="345.95" y="424.32" width="7.4" height="7.4" fill="#000"/>
<rect x="352.40" y="434.99" width="7.4" height="7.4" fill="#000"/>
<rect x="358.85" y="435.92" width="7.4" height="7.4" fill="#000"/>
<line x1="291.60" y1="417.58" x2="291.60" y2="429.18" stroke="#000" stroke-width="1.3"/>
<line x1="288.00" y1="417.58" x2="295.20" y2="417.58" stroke="#000" stroke-width="1.4"/>
<line x1="288.00" y1="429.18" x2="295.20" y2="429.18" stroke="#000" stroke-width="1.4"/>
<line x1="298.05" y1="419.32" x2="298.05" y2="435.56" stroke="#000" stroke-width="1.3"/>
<line x1="294.45" y1="419.32" x2="301.65" y2="419.32" stroke="#000" stroke-width="1.4"/>
<line x1="294.45" y1="435.56" x2="301.65" y2="435.56" stroke="#000" stroke-width="1.4"/>
<line x1="304.50" y1="419.32" x2="304.50" y2="434.40" stroke="#000" stroke-width="1.3"/>
<line x1="300.90" y1="419.32" x2="308.10" y2="419.32" stroke="#000" stroke-width="1.4"/>
<line x1="300.90" y1="434.40" x2="308.10" y2="434.40" stroke="#000" stroke-width="1.4"/>
<line x1="310.95" y1="420.48" x2="310.95" y2="437.88" stroke="#000" stroke-width="1.3"/>
<line x1="307.35" y1="420.48" x2="314.55" y2="420.48" stroke="#000" stroke-width="1.4"/>
<line x1="307.35" y1="437.88" x2="314.55" y2="437.88" stroke="#000" stroke-width="1.4"/>
<line x1="317.40" y1="425.70" x2="317.40" y2="441.94" stroke="#000" stroke-width="1.3"/>
<line x1="313.80" y1="425.70" x2="321.00" y2="425.70" stroke="#000" stroke-width="1.4"/>
<line x1="313.80" y1="441.94" x2="321.00" y2="441.94" stroke="#000" stroke-width="1.4"/>
<line x1="323.85" y1="424.54" x2="323.85" y2="439.62" stroke="#000" stroke-width="1.3"/>
<line x1="320.25" y1="424.54" x2="327.45" y2="424.54" stroke="#000" stroke-width="1.4"/>
<line x1="320.25" y1="439.62" x2="327.45" y2="439.62" stroke="#000" stroke-width="1.4"/>
<line x1="330.30" y1="429.76" x2="330.30" y2="442.52" stroke="#000" stroke-width="1.3"/>
<line x1="326.70" y1="429.76" x2="333.90" y2="429.76" stroke="#000" stroke-width="1.4"/>
<line x1="326.70" y1="442.52" x2="333.90" y2="442.52" stroke="#000" stroke-width="1.4"/>
<line x1="336.75" y1="434.40" x2="336.75" y2="446.00" stroke="#000" stroke-width="1.3"/>
<line x1="333.15" y1="434.40" x2="340.35" y2="434.40" stroke="#000" stroke-width="1.4"/>
<line x1="333.15" y1="446.00" x2="340.35" y2="446.00" stroke="#000" stroke-width="1.4"/>
<line x1="343.20" y1="439.04" x2="343.20" y2="449.48" stroke="#000" stroke-width="1.3"/>
<line x1="339.60" y1="439.04" x2="346.80" y2="439.04" stroke="#000" stroke-width="1.4"/>
<line x1="339.60" y1="449.48" x2="346.80" y2="449.48" stroke="#000" stroke-width="1.4"/>
<line x1="349.65" y1="437.30" x2="349.65" y2="446.58" stroke="#000" stroke-width="1.3"/>
<line x1="346.05" y1="437.30" x2="353.25" y2="437.30" stroke="#000" stroke-width="1.4"/>
<line x1="346.05" y1="446.58" x2="353.25" y2="446.58" stroke="#000" stroke-width="1.4"/>
<line x1="356.10" y1="441.36" x2="356.10" y2="449.48" stroke="#000" stroke-width="1.3"/>
<line x1="352.50" y1="441.36" x2="359.70" y2="441.36" stroke="#000" stroke-width="1.4"/>
<line x1="352.50" y1="449.48" x2="359.70" y2="449.48" stroke="#000" stroke-width="1.4"/>
<line x1="362.55" y1="443.10" x2="362.55" y2="450.06" stroke="#000" stroke-width="1.3"/>
<line x1="358.95" y1="443.10" x2="366.15" y2="443.10" stroke="#000" stroke-width="1.4"/>
<line x1="358.95" y1="450.06" x2="366.15" y2="450.06" stroke="#000" stroke-width="1.4"/>
<path d="M240.00,405.40 L246.45,437.88 L252.90,449.48 L259.35,448.90 L265.80,454.12 L272.25,451.39 L278.70,452.21 L285.15,440.49 L291.60,423.38 L298.05,427.44 L304.50,426.86 L310.95,429.18 L317.40,433.82 L323.85,432.08 L330.30,436.14 L336.75,440.20 L343.20,444.26 L349.65,441.94 L356.10,445.42 L362.55,446.58" fill="none" stroke="#000" stroke-width="1.4"/>
<circle cx="240.00" cy="405.40" r="3.05" fill="#fff" stroke="#000" stroke-width="1.4"/>
<circle cx="246.45" cy="437.88" r="3.05" fill="#fff" stroke="#000" stroke-width="1.4"/>
<circle cx="252.90" cy="449.48" r="3.05" fill="#fff" stroke="#000" stroke-width="1.4"/>
<circle cx="259.35" cy="448.90" r="3.05" fill="#fff" stroke="#000" stroke-width="1.4"/>
<circle cx="265.80" cy="454.12" r="3.05" fill="#fff" stroke="#000" stroke-width="1.4"/>
<circle cx="272.25" cy="451.39" r="3.05" fill="#fff" stroke="#000" stroke-width="1.4"/>
<circle cx="278.70" cy="452.21" r="3.05" fill="#fff" stroke="#000" stroke-width="1.4"/>
<circle cx="285.15" cy="440.49" r="3.05" fill="#fff" stroke="#000" stroke-width="1.4"/>
<circle cx="291.60" cy="423.38" r="3.05" fill="#fff" stroke="#000" stroke-width="1.4"/>
<circle cx="298.05" cy="427.44" r="3.05" fill="#fff" stroke="#000" stroke-width="1.4"/>
<circle cx="304.50" cy="426.86" r="3.05" fill="#fff" stroke="#000" stroke-width="1.4"/>
<circle cx="310.95" cy="429.18" r="3.05" fill="#fff" stroke="#000" stroke-width="1.4"/>
<circle cx="317.40" cy="433.82" r="3.05" fill="#fff" stroke="#000" stroke-width="1.4"/>
<circle cx="323.85" cy="432.08" r="3.05" fill="#fff" stroke="#000" stroke-width="1.4"/>
<circle cx="330.30" cy="436.14" r="3.05" fill="#fff" stroke="#000" stroke-width="1.4"/>
<circle cx="336.75" cy="440.20" r="3.05" fill="#fff" stroke="#000" stroke-width="1.4"/>
<circle cx="343.20" cy="444.26" r="3.05" fill="#fff" stroke="#000" stroke-width="1.4"/>
<circle cx="349.65" cy="441.94" r="3.05" fill="#fff" stroke="#000" stroke-width="1.4"/>
<circle cx="356.10" cy="445.42" r="3.05" fill="#fff" stroke="#000" stroke-width="1.4"/>
<circle cx="362.55" cy="446.58" r="3.05" fill="#fff" stroke="#000" stroke-width="1.4"/>
<line x1="297.40" y1="60.40" x2="311.90" y2="60.40" stroke="#000" stroke-width="1.3"/>
<circle cx="304.65" cy="60.40" r="3.05" fill="#fff" stroke="#000" stroke-width="1.4"/>
<text x="317.50" y="64.40" font-size="12.1" text-anchor="start" font-weight="normal" >Saline</text>
<line x1="297.40" y1="77.50" x2="311.90" y2="77.50" stroke="#000" stroke-width="1.3"/>
<rect x="300.95" y="73.80" width="7.4" height="7.4" fill="#000"/>
<text x="317.20" y="82.60" font-size="12.2" text-anchor="start" font-weight="normal" >Cocaine</text>
<line x1="288.10" y1="312.40" x2="302.30" y2="312.40" stroke="#000" stroke-width="1.3"/>
<circle cx="295.20" cy="312.40" r="3.05" fill="#fff" stroke="#000" stroke-width="1.4"/>
<text x="307.60" y="317.30" font-size="12.2" text-anchor="start" font-weight="normal" >Saline pretreated</text>
<line x1="288.10" y1="329.60" x2="302.30" y2="329.60" stroke="#000" stroke-width="1.3"/>
<rect x="291.50" y="325.90" width="7.4" height="7.4" fill="#000"/>
<text x="307.20" y="333.90" font-size="12.2" text-anchor="start" font-weight="normal" >Cocaine pretreated</text>
<line x1="135.00" y1="46.40" x2="135.00" y2="108.20" stroke="#000" stroke-width="1.0"/>
<line x1="132.50" y1="107.70" x2="183.60" y2="107.70" stroke="#000" stroke-width="1.0"/>
<line x1="132.40" y1="107.70" x2="135.00" y2="107.70" stroke="#000" stroke-width="1.0"/>
<line x1="133.50" y1="102.17" x2="135.00" y2="102.17" stroke="#000" stroke-width="1.0"/>
<line x1="132.40" y1="96.65" x2="135.00" y2="96.65" stroke="#000" stroke-width="1.0"/>
<line x1="133.50" y1="91.12" x2="135.00" y2="91.12" stroke="#000" stroke-width="1.0"/>
<line x1="132.40" y1="85.60" x2="135.00" y2="85.60" stroke="#000" stroke-width="1.0"/>
<line x1="133.50" y1="80.08" x2="135.00" y2="80.08" stroke="#000" stroke-width="1.0"/>
<line x1="132.40" y1="74.55" x2="135.00" y2="74.55" stroke="#000" stroke-width="1.0"/>
<line x1="133.50" y1="69.03" x2="135.00" y2="69.03" stroke="#000" stroke-width="1.0"/>
<line x1="132.40" y1="63.50" x2="135.00" y2="63.50" stroke="#000" stroke-width="1.0"/>
<line x1="133.50" y1="57.98" x2="135.00" y2="57.98" stroke="#000" stroke-width="1.0"/>
<line x1="132.40" y1="52.45" x2="135.00" y2="52.45" stroke="#000" stroke-width="1.0"/>
<line x1="133.50" y1="46.92" x2="135.00" y2="46.92" stroke="#000" stroke-width="1.0"/>
<text x="130.10" y="110.30" font-size="6.4" text-anchor="end" font-weight="normal" >0</text>
<text x="130.10" y="99.25" font-size="6.4" text-anchor="end" font-weight="normal" >250</text>
<text x="130.10" y="88.20" font-size="6.4" text-anchor="end" font-weight="normal" >500</text>
<text x="130.10" y="77.15" font-size="6.4" text-anchor="end" font-weight="normal" >750</text>
<text x="130.10" y="66.10" font-size="6.4" text-anchor="end" font-weight="normal" >1000</text>
<text x="130.10" y="55.05" font-size="6.4" text-anchor="end" font-weight="normal" >1250</text>
<line x1="141.00" y1="107.70" x2="141.00" y2="109.70" stroke="#000" stroke-width="1.0"/>
<text x="141.00" y="117.90" font-size="6.3" text-anchor="middle" font-weight="normal" >1</text>
<line x1="146.64" y1="107.70" x2="146.64" y2="109.70" stroke="#000" stroke-width="1.0"/>
<text x="146.64" y="117.90" font-size="6.3" text-anchor="middle" font-weight="normal" >2</text>
<line x1="152.28" y1="107.70" x2="152.28" y2="109.70" stroke="#000" stroke-width="1.0"/>
<text x="152.28" y="117.90" font-size="6.3" text-anchor="middle" font-weight="normal" >3</text>
<line x1="157.92" y1="107.70" x2="157.92" y2="109.70" stroke="#000" stroke-width="1.0"/>
<text x="157.92" y="117.90" font-size="6.3" text-anchor="middle" font-weight="normal" >4</text>
<line x1="163.56" y1="107.70" x2="163.56" y2="109.70" stroke="#000" stroke-width="1.0"/>
<text x="163.56" y="117.90" font-size="6.3" text-anchor="middle" font-weight="normal" >5</text>
<line x1="169.20" y1="107.70" x2="169.20" y2="109.70" stroke="#000" stroke-width="1.0"/>
<text x="169.20" y="117.90" font-size="6.3" text-anchor="middle" font-weight="normal" >6</text>
<line x1="174.84" y1="107.70" x2="174.84" y2="109.70" stroke="#000" stroke-width="1.0"/>
<text x="174.84" y="117.90" font-size="6.3" text-anchor="middle" font-weight="normal" >7</text>
<line x1="180.48" y1="107.70" x2="180.48" y2="109.70" stroke="#000" stroke-width="1.0"/>
<text x="180.48" y="117.90" font-size="6.3" text-anchor="middle" font-weight="normal" >8</text>
<text x="161.60" y="126.50" font-size="10.3" text-anchor="middle" font-weight="normal" >Session</text>
<line x1="141.00" y1="91.52" x2="141.00" y2="93.29" stroke="#000" stroke-width="1.0"/>
<line x1="138.80" y1="91.52" x2="143.20" y2="91.52" stroke="#000" stroke-width="1.1"/>
<line x1="138.80" y1="93.29" x2="143.20" y2="93.29" stroke="#000" stroke-width="1.1"/>
<line x1="146.64" y1="79.41" x2="146.64" y2="85.42" stroke="#000" stroke-width="1.0"/>
<line x1="144.44" y1="79.41" x2="148.84" y2="79.41" stroke="#000" stroke-width="1.1"/>
<line x1="144.44" y1="85.42" x2="148.84" y2="85.42" stroke="#000" stroke-width="1.1"/>
<line x1="152.28" y1="77.16" x2="152.28" y2="82.82" stroke="#000" stroke-width="1.0"/>
<line x1="150.08" y1="77.16" x2="154.48" y2="77.16" stroke="#000" stroke-width="1.1"/>
<line x1="150.08" y1="82.82" x2="154.48" y2="82.82" stroke="#000" stroke-width="1.1"/>
<line x1="157.92" y1="69.60" x2="157.92" y2="76.23" stroke="#000" stroke-width="1.0"/>
<line x1="155.72" y1="69.60" x2="160.12" y2="69.60" stroke="#000" stroke-width="1.1"/>
<line x1="155.72" y1="76.23" x2="160.12" y2="76.23" stroke="#000" stroke-width="1.1"/>
<line x1="163.56" y1="71.10" x2="163.56" y2="76.94" stroke="#000" stroke-width="1.0"/>
<line x1="161.36" y1="71.10" x2="165.76" y2="71.10" stroke="#000" stroke-width="1.1"/>
<line x1="161.36" y1="76.94" x2="165.76" y2="76.94" stroke="#000" stroke-width="1.1"/>
<line x1="169.20" y1="66.73" x2="169.20" y2="73.36" stroke="#000" stroke-width="1.0"/>
<line x1="167.00" y1="66.73" x2="171.40" y2="66.73" stroke="#000" stroke-width="1.1"/>
<line x1="167.00" y1="73.36" x2="171.40" y2="73.36" stroke="#000" stroke-width="1.1"/>
<line x1="174.84" y1="67.17" x2="174.84" y2="73.80" stroke="#000" stroke-width="1.0"/>
<line x1="172.64" y1="67.17" x2="177.04" y2="67.17" stroke="#000" stroke-width="1.1"/>
<line x1="172.64" y1="73.80" x2="177.04" y2="73.80" stroke="#000" stroke-width="1.1"/>
<line x1="180.48" y1="65.53" x2="180.48" y2="72.52" stroke="#000" stroke-width="1.0"/>
<line x1="178.28" y1="65.53" x2="182.68" y2="65.53" stroke="#000" stroke-width="1.1"/>
<line x1="178.28" y1="72.52" x2="182.68" y2="72.52" stroke="#000" stroke-width="1.1"/>
<path d="M141.00,92.41 L146.64,82.42 L152.28,79.99 L157.92,72.91 L163.56,74.02 L169.20,70.04 L174.84,70.48 L180.48,69.03" fill="none" stroke="#000" stroke-width="1.1"/>
<rect x="138.90" y="90.31" width="4.2" height="4.2" fill="#000"/>
<rect x="144.54" y="80.32" width="4.2" height="4.2" fill="#000"/>
<rect x="150.18" y="77.89" width="4.2" height="4.2" fill="#000"/>
<rect x="155.82" y="70.81" width="4.2" height="4.2" fill="#000"/>
<rect x="161.46" y="71.92" width="4.2" height="4.2" fill="#000"/>
<rect x="167.10" y="67.94" width="4.2" height="4.2" fill="#000"/>
<rect x="172.74" y="68.38" width="4.2" height="4.2" fill="#000"/>
<rect x="178.38" y="66.93" width="4.2" height="4.2" fill="#000"/>
<line x1="141.00" y1="96.25" x2="141.00" y2="99.79" stroke="#000" stroke-width="0.9"/>
<line x1="139.00" y1="96.25" x2="143.00" y2="96.25" stroke="#000" stroke-width="0.9"/>
<line x1="139.00" y1="99.79" x2="143.00" y2="99.79" stroke="#000" stroke-width="0.9"/>
<line x1="180.48" y1="97.49" x2="180.48" y2="101.47" stroke="#000" stroke-width="0.9"/>
<line x1="178.48" y1="97.49" x2="182.48" y2="97.49" stroke="#000" stroke-width="0.9"/>
<line x1="178.48" y1="101.47" x2="182.48" y2="101.47" stroke="#000" stroke-width="0.9"/>
<path d="M141.00,98.02 L146.64,101.69 L152.28,102.62 L157.92,102.88 L163.56,103.99 L169.20,103.99 L174.84,103.99 L180.48,99.48" fill="none" stroke="#000" stroke-width="0.9"/>
<circle cx="141.00" cy="98.02" r="1.75" fill="#fff" stroke="#000" stroke-width="0.9"/>
<circle cx="146.64" cy="101.69" r="1.75" fill="#fff" stroke="#000" stroke-width="0.9"/>
<circle cx="152.28" cy="102.62" r="1.75" fill="#fff" stroke="#000" stroke-width="0.9"/>
<circle cx="157.92" cy="102.88" r="1.75" fill="#fff" stroke="#000" stroke-width="0.9"/>
<circle cx="163.56" cy="103.99" r="1.75" fill="#fff" stroke="#000" stroke-width="0.9"/>
<circle cx="169.20" cy="103.99" r="1.75" fill="#fff" stroke="#000" stroke-width="0.9"/>
<circle cx="174.84" cy="103.99" r="1.75" fill="#fff" stroke="#000" stroke-width="0.9"/>
<circle cx="180.48" cy="99.48" r="1.75" fill="#fff" stroke="#000" stroke-width="0.9"/>
</svg>
</body></html>
